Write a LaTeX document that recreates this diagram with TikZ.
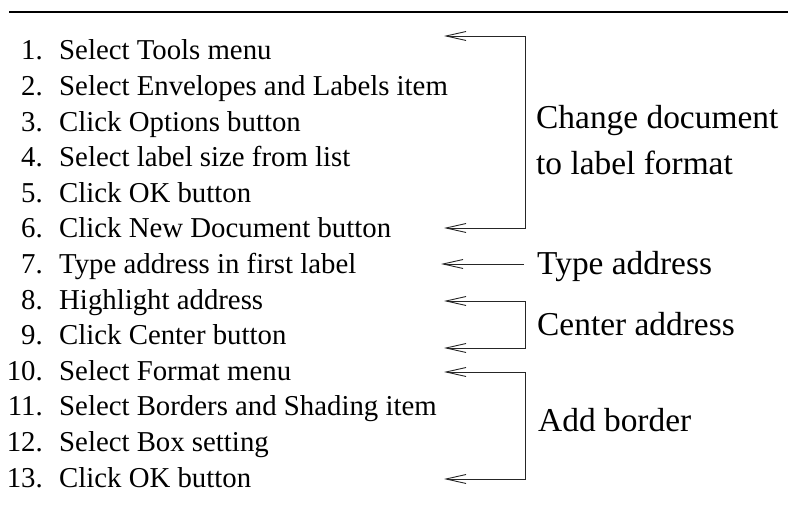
\documentclass[tikz,border=0pt]{standalone}
\usepackage{fontspec}
\setmainfont{Liberation Serif}
\usetikzlibrary{arrows.meta}
\begin{document}
\begin{tikzpicture}[x=1pt,y=-1pt,
  num/.style={anchor=base east,inner sep=0pt,font=\fontsize{28.8}{34}\selectfont},
  item/.style={anchor=base west,inner sep=0pt,font=\fontsize{28.8}{34}\selectfont},
  grp/.style={anchor=base west,inner sep=0pt,font=\fontsize{33.4}{46}\selectfont},
  brk/.style={line width=0.9pt,draw=black!85,line join=miter,
    {Straight Barb[length=20pt,width=9pt,line width=0.9pt]}-{Straight Barb[length=20pt,width=9pt,line width=0.9pt]}},
  one/.style={line width=0.9pt,draw=black!85,-{Straight Barb[length=20pt,width=9pt,line width=0.9pt]}}
]
\useasboundingbox (0,0) rectangle (788,510);
\coordinate (rl) at (9,12);
\coordinate (rr) at (788,12);
\draw[line width=1.6pt] (rl) -- (rr);

\foreach \i/\t [evaluate=\i as \yy using 60+(\i-1)*35.6] in {
  1/Select Tools menu,
  2/Select Envelopes and Labels item,
  3/Click Options button,
  4/Select label size from list,
  5/Click OK button,
  6/Click New Document button,
  7/Type address in first label,
  8/Highlight address,
  9/Click Center button,
  10/Select Format menu,
  11/Select Borders and Shading item,
  12/Select Box setting,
  13/Click OK button}{
  \node[num] (n\i) at (43,\yy) {\i.};
  \node[item] (s\i) at (59,\yy) {\t};
}

\node[grp] (g1a) at (536,129) {Change document};
\node[grp] (g1b) at (536,175) {to label format};
\node[grp] (g2) at (537,275) {Type address};
\node[grp] (g3) at (537,336) {Center address};
\node[grp] (g4) at (538,432) {Add border};

% group 1
\coordinate (t1) at (444,36);
\coordinate (c1a) at (525,36);
\coordinate (c1b) at (525,228);
\coordinate (t6) at (444,228);
\draw[brk] (t1) -- (c1a) -- (c1b) -- (t6);

% group 2
\coordinate (c2) at (524,264);
\coordinate (t7) at (441,264);
\draw[one] (c2) -- (t7);

% group 3
\coordinate (t8) at (444,301);
\coordinate (c3a) at (525,301);
\coordinate (c3b) at (525,348);
\coordinate (t9) at (444,348);
\draw[brk] (t8) -- (c3a) -- (c3b) -- (t9);

% group 4
\coordinate (t10) at (444,372);
\coordinate (c4a) at (525,372);
\coordinate (c4b) at (525,479);
\coordinate (t13) at (444,479);
\draw[brk] (t10) -- (c4a) -- (c4b) -- (t13);
\end{tikzpicture}
\end{document}
